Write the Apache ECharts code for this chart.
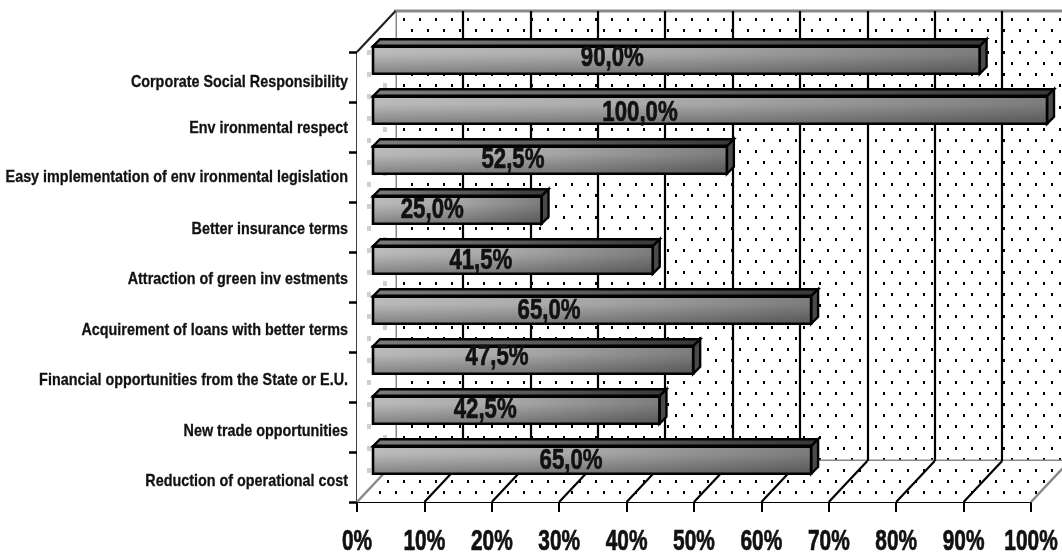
<!DOCTYPE html>
<html>
<head>
<meta charset="utf-8">
<style>html,body{margin:0;padding:0;background:#fff}#chart{width:1062px;height:557px}</style>
<script src="https://cdn.jsdelivr.net/npm/echarts@6/dist/echarts.min.js"></script>
</head>
<body>
<div id="chart"></div>
<script>
// Benefit categories, listed from the bottom of the chart upward
const categories = [
  'Reduction of operational cost',
  'New trade opportunities',
  'Financial opportunities from the State or E.U.',
  'Acquirement of loans with better terms',
  'Attraction of green inv estments',
  'Better insurance terms',
  'Easy implementation of env ironmental legislation',
  'Env ironmental respect',
  'Corporate Social Responsibility'
];
const shares = [65, 42.5, 47.5, 65, 41.5, 25, 52.5, 100, 90];
const percentTicks = [0, 10, 20, 30, 40, 50, 60, 70, 80, 90, 100];

// Hand placement of the text relative to the bar middles and axis bands
const captionShiftX = [-21, -31, -36, -43, -32, -25, -37, -70, -64];
const captionShiftY = [1, 0, -3, 1, 1, 0, 0, 3, -2];
const categoryShiftY = [4, 4, 3, 3, 2, 2, 0, 1, 5];

const FONT = '"Liberation Sans",Arial,sans-serif';
const DEPTH_X = 38.5, DEPTH_Y = 41;   // floor and wall depth
const BAR_DEPTH = 7;                  // extrusion of each bar

function tile(w, h, color, dots) {
  const c = document.createElement('canvas');
  c.width = w; c.height = h;
  const g = c.getContext('2d');
  g.fillStyle = '#fff'; g.fillRect(0, 0, w, h);
  g.fillStyle = color;
  dots.forEach(d => g.fillRect(d[0], d[1], d[2], d[3]));
  return { image: c, repeat: 'repeat' };
}
const blackDots = tile(16, 22, '#000', [[3, 18, 2, 3], [11, 7, 2, 3]]);
const greyDots = tile(32, 22, '#cfcfcf', [[15, 6, 4, 5], [31, 17, 1, 5], [0, 17, 3, 5]]);

const chart = echarts.init(document.getElementById('chart'), null, { renderer: 'canvas' });

function renderLeftWall(params, api) {
  const r = params.coordSys;
  const x0 = r.x, yT = r.y, yB = r.y + r.height;
  return {
    type: 'group',
    children: [
      { type: 'polygon', shape: { points: [[x0, yT], [x0 + DEPTH_X, yT - DEPTH_Y], [x0 + DEPTH_X, yB - DEPTH_Y], [x0, yB]] },
        style: { fill: greyDots } },
      { type: 'line', shape: { x1: x0, y1: yT, x2: x0 + DEPTH_X, y2: yT - DEPTH_Y }, style: { stroke: '#222', lineWidth: 2.2 } }
    ]
  };
}

function renderFloor(params, api) {
  const r = params.coordSys;
  const x0 = r.x, x1 = r.x + r.width, yB = r.y + r.height;
  return {
    type: 'polygon',
    shape: { points: [[x0, yB], [x0 + DEPTH_X, yB - DEPTH_Y], [x1 + DEPTH_X, yB - DEPTH_Y], [x1, yB]] },
    style: { fill: blackDots }
  };
}

function renderFloorRule(params, api) {
  const r = params.coordSys;
  const v = api.value(0);
  const x = api.coord([v, 0])[0];
  const yB = r.y + r.height;
  const edge = v === 0 || v === 100;
  return {
    type: 'line',
    shape: { x1: x, y1: yB, x2: x + DEPTH_X, y2: yB - DEPTH_Y },
    style: { stroke: edge ? '#888' : '#000', lineWidth: edge ? 2.5 : 2.2 }
  };
}

function renderBar(params, api) {
  const end = api.coord([api.value(0), api.value(1)]);
  const start = api.coord([0, api.value(1)]);
  const h = api.size([0, 1])[1] * 0.55;
  const x = start[0], w = end[0] - start[0], top = end[1] - h / 2, d = BAR_DEPTH;
  const outline = { stroke: '#000', lineWidth: 2.4, lineJoin: 'miter' };
  return {
    type: 'group',
    children: [
      { type: 'polygon',
        shape: { points: [[x, top], [x + d, top - d], [x + w + d, top - d], [x + w, top]] },
        style: Object.assign({ fill: new echarts.graphic.LinearGradient(0, 0, 1, 0, [
          { offset: 0, color: '#7e7e7e' }, { offset: 1, color: '#383838' }]) }, outline) },
      { type: 'polygon',
        shape: { points: [[x + w, top], [x + w + d, top - d], [x + w + d, top + h - d], [x + w, top + h]] },
        style: Object.assign({ fill: '#4a4a4a' }, outline) },
      { type: 'rect', shape: { x, y: top, width: w, height: h },
        style: { fill: new echarts.graphic.LinearGradient(0, 0, 1, 0, [
          { offset: 0, color: '#bababa' }, { offset: 0.5, color: '#a6a6a6' }, { offset: 1, color: '#7c7c7c' }]) } },
      { type: 'rect', shape: { x, y: top, width: w, height: h },
        style: { fill: new echarts.graphic.LinearGradient(0, 0, 0, 1, [
          { offset: 0.3, color: 'rgba(0,0,0,0)' }, { offset: 1, color: 'rgba(0,0,0,0.32)' }]), stroke: '#000', lineWidth: 2.6 } },
      { type: 'line', shape: { x1: x, y1: top, x2: x + w, y2: top }, style: { stroke: '#000', lineWidth: 3.4 } }
    ]
  };
}

function renderCaption(params, api) {
  const i = params.dataIndex;
  const end = api.coord([api.value(0), api.value(1)]);
  const start = api.coord([0, api.value(1)]);
  return {
    type: 'text',
    x: (start[0] + end[0]) / 2 + captionShiftX[i],
    y: end[1] + captionShiftY[i],
    scaleX: 0.74,
    style: {
      text: api.value(0).toFixed(1).replace('.', ',') + '%',
      font: 'bold 30px ' + FONT,
      fill: '#111',
      stroke: '#111',
      lineWidth: 0.7,
      align: 'center',
      verticalAlign: 'middle'
    }
  };
}

function renderCategoryLabel(params, api) {
  const i = params.dataIndex;
  return {
    type: 'text',
    x: params.coordSys.x - 9,
    y: api.coord([0, api.value(1)])[1] + categoryShiftY[i],
    scaleX: 0.845,
    style: { text: categories[i], font: 'bold 17px ' + FONT, fill: '#111', stroke: '#111', lineWidth: 0.3, align: 'right', verticalAlign: 'middle' }
  };
}

function renderTickLabel(params, api) {
  const r = params.coordSys;
  return {
    type: 'text',
    x: api.coord([api.value(0), 0])[0],
    y: r.y + r.height + 40,
    scaleX: 0.72,
    style: { text: api.value(0) + '%', font: 'bold 29px ' + FONT, fill: '#111', stroke: '#111', lineWidth: 0.7, align: 'center', verticalAlign: 'middle' }
  };
}

const barData = shares.map((v, i) => [v, i]);
const tickData = percentTicks.map(v => [v, 0]);
const frontGrid = { xAxisIndex: 1, yAxisIndex: 1, silent: true, encode: { x: 0, y: 1 } };
const barGrid = { xAxisIndex: 0, yAxisIndex: 0, silent: true, encode: { x: 0, y: 1 } };

chart.setOption({
  animation: false,
  backgroundColor: '#fff',
  grid: [
    // front plane of the bars
    { left: 373, top: 35, width: 674, height: 450, outerBoundsMode: 'none' },
    // front plane of the frame, carries the visible axes
    { left: 357, top: 52, width: 674, height: 450, outerBoundsMode: 'none' },
    // back wall
    { left: 395.5, top: 11, width: 674, height: 450, outerBoundsMode: 'none', show: true, backgroundColor: blackDots, borderColor: '#888', borderWidth: 3 }
  ],
  xAxis: [
    { gridIndex: 0, type: 'value', min: 0, max: 100, show: false },
    { gridIndex: 1, type: 'value', min: 0, max: 100, interval: 10,
      axisLine: { show: true, lineStyle: { color: '#000', width: 2 } },
      axisTick: { show: true, length: 10, lineStyle: { color: '#000', width: 2 } },
      splitLine: { show: false },
      axisLabel: { show: false } },
    { gridIndex: 2, type: 'value', min: 0, max: 100, interval: 10,
      axisLine: { show: false }, axisTick: { show: false }, axisLabel: { show: false },
      splitLine: { show: true, showMinLine: false, lineStyle: { color: '#000', width: 2.2 } } }
  ],
  yAxis: [
    { gridIndex: 0, type: 'category', data: categories, show: false },
    { gridIndex: 1, type: 'category', data: categories,
      axisLine: { show: true, onZero: false, lineStyle: { color: '#000', width: 2.5 } },
      axisTick: { show: true, length: 8, lineStyle: { color: '#000', width: 2.5 } },
      axisLabel: { show: false } },
    { gridIndex: 2, type: 'category', data: categories, show: false }
  ],
  series: [
    Object.assign({ type: 'custom', name: 'wall', z: 1, data: [[0, 0]], renderItem: renderLeftWall }, frontGrid),
    Object.assign({ type: 'custom', name: 'floor', z: 1, data: [[0, 0]], renderItem: renderFloor }, frontGrid),
    Object.assign({ type: 'custom', name: 'rules', z: 2, data: tickData, renderItem: renderFloorRule }, frontGrid),
    Object.assign({ type: 'custom', name: 'share', z: 3, data: barData, renderItem: renderBar }, barGrid),
    Object.assign({ type: 'custom', name: 'captions', z: 5, data: barData, renderItem: renderCaption }, barGrid),
    Object.assign({ type: 'custom', name: 'category labels', z: 5, data: categories.map((c, i) => [0, i]), renderItem: renderCategoryLabel }, frontGrid),
    Object.assign({ type: 'custom', name: 'tick labels', z: 5, data: tickData, renderItem: renderTickLabel }, frontGrid)
  ]
});
</script>
</body>
</html>
